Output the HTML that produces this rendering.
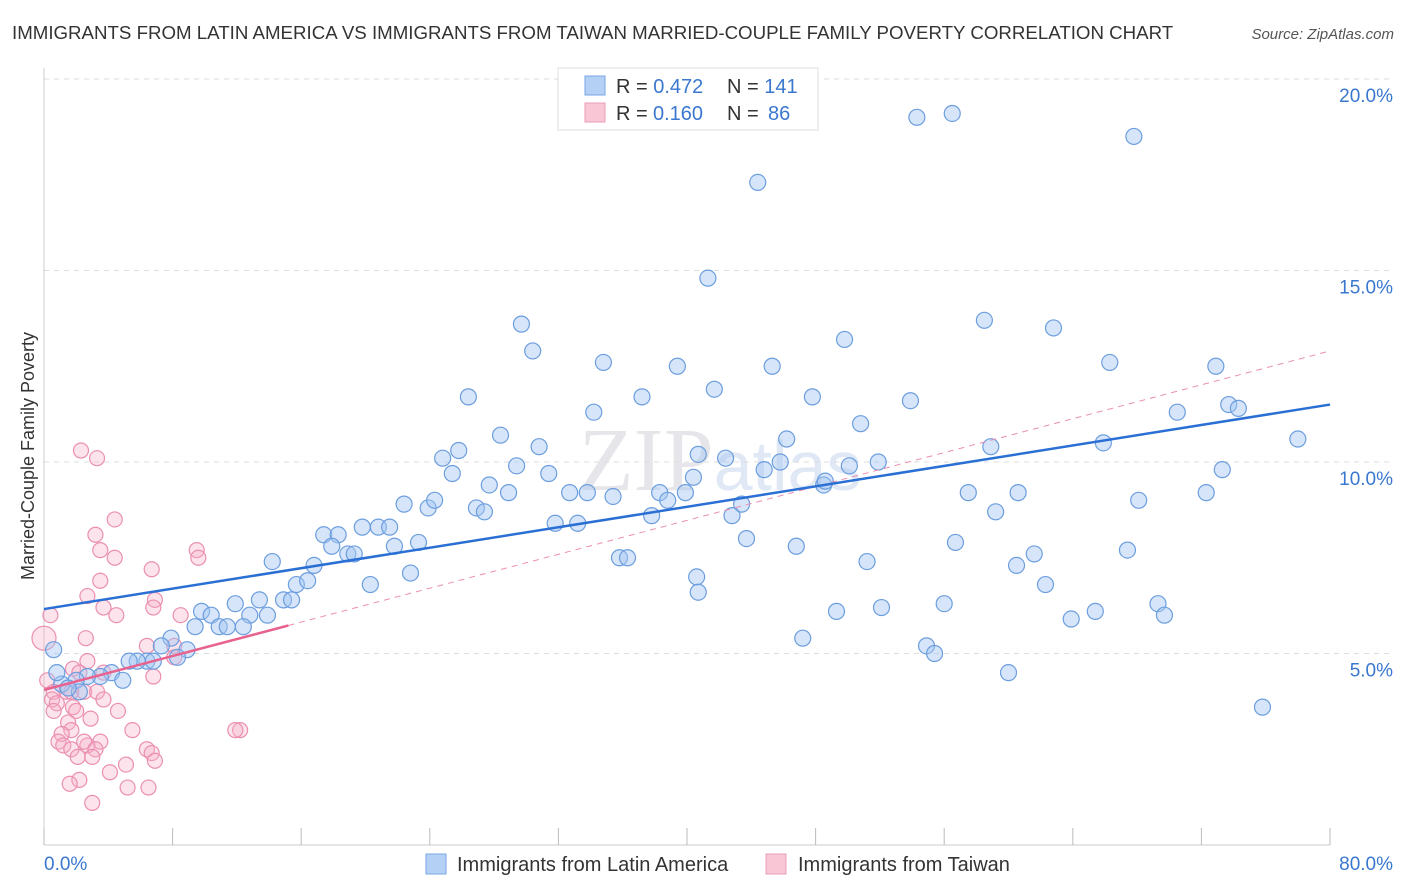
<!DOCTYPE html>
<html><head><meta charset="utf-8"><style>
body{margin:0;background:#fff;font-family:"Liberation Sans",sans-serif;}
svg{display:block}
</style></head><body>
<svg id="chart" width="1406" height="892" viewBox="0 0 1406 892" xmlns="http://www.w3.org/2000/svg">
<text x="12" y="39" font-size="18.7" fill="#333">IMMIGRANTS FROM LATIN AMERICA VS IMMIGRANTS FROM TAIWAN MARRIED-COUPLE FAMILY POVERTY CORRELATION CHART</text>
<text x="1394" y="39" font-size="15" fill="#555" text-anchor="end" font-style="italic">Source: ZipAtlas.com</text>
<text x="720" y="490" font-size="90" fill="#e6e6ea" text-anchor="middle" font-family="Liberation Serif">ZIP<tspan font-family="Liberation Sans" font-size="70" fill="#dfe8f4">atlas</tspan></text>
<g id="grid"></g>
<g id="axes"></g>
<g id="pts"></g>
<g id="trend"></g>
<text transform="translate(34,456) rotate(-90)" font-size="18" fill="#333" text-anchor="middle">Married-Couple Family Poverty</text>
<g>
<rect x="558" y="68" width="260" height="62" fill="#fff" stroke="#ddd"/>
<rect x="585" y="76" width="20" height="19" fill="#b5d0f5" stroke="#7aa6e6"/>
<rect x="585" y="103" width="20" height="19" fill="#f9c6d6" stroke="#eb9cb6"/>
<text x="616" y="93" font-size="20" fill="#333">R = <tspan fill="#3a78d0">0.472</tspan><tspan x="727">N = </tspan><tspan fill="#3a78d0">141</tspan></text>
<text x="616" y="120" font-size="20" fill="#333">R = <tspan x="653" fill="#3a78d0">0.160</tspan><tspan x="727">N = </tspan><tspan x="768" fill="#3a78d0">86</tspan></text>
</g>
<g>
<rect x="426" y="854" width="20" height="20" fill="#b5d0f5" stroke="#7aa6e6"/>
<text x="457" y="871" font-size="20" fill="#333">Immigrants from Latin America</text>
<rect x="766" y="854" width="20" height="20" fill="#f9c6d6" stroke="#eb9cb6"/>
<text x="798" y="871" font-size="20" fill="#333">Immigrants from Taiwan</text>
</g>
</svg>
<script>
const xTicks=[0,8,16,24,32,40,48,56,64,72,80];
const yTicks=[5,10,15,20];
const blueX=[54.3,56.5,67.8,44.4,41.3,29.7,30.4,58.5,62.8,49.8,34.8,39.4,45.3,66.3,72.9,41.7,26.4,37.2,47.8,53.9,73.7,74.3,34.2,70.5,50.8,28.4,46.2,78.0,30.8,25.8,58.9,65.9,40.7,24.8,42.4,45.8,25.4,29.4,31.4,44.8,50.1,51.9,73.3,40.4,27.7,32.7,33.8,35.4,38.3,39.9,28.9,48.5,48.6,57.5,60.6,68.1,72.3,22.4,23.9,24.3,26.9,27.4,38.8,43.4,42.8,37.8,59.2,31.8,33.2,17.4,18.3,19.8,20.8,21.5,17.9,21.8,23.3,18.9,19.3,43.7,46.8,56.7,67.4,35.8,36.3,61.6,51.2,60.5,14.2,16.8,22.8,15.7,16.4,20.3,40.6,40.7,62.3,14.9,15.4,56.0,69.3,13.4,11.9,9.8,10.4,52.1,49.3,65.4,63.9,69.7,13.9,12.8,10.9,11.4,9.4,12.4,47.2,54.9,55.4,75.8,60.0,7.9,8.9,7.3,8.3,6.4,6.8,5.8,5.3,4.2,3.5,4.9,2.7,2.0,1.1,0.6,2.2,1.5,0.8];
const blueY=[19.0,19.1,18.5,17.3,14.8,13.6,12.9,13.7,13.5,13.2,12.6,12.5,12.5,12.6,12.5,11.9,11.7,11.7,11.7,11.6,11.5,11.4,11.3,11.3,11.0,10.7,10.6,10.6,10.4,10.3,10.4,10.5,10.2,10.1,10.1,10.0,9.7,9.9,9.7,9.8,9.9,10.0,9.8,9.6,9.4,9.2,9.2,9.1,9.2,9.2,9.2,9.4,9.5,9.2,9.2,9.0,9.2,8.9,8.8,9.0,8.8,8.7,9.0,8.9,8.6,8.6,8.7,8.4,8.4,8.1,8.1,8.3,8.3,8.3,7.8,7.8,7.9,7.6,7.6,8.0,7.8,7.9,7.7,7.5,7.5,7.6,7.4,7.3,7.4,7.3,7.1,6.8,6.9,6.8,7.0,6.6,6.8,6.4,6.4,6.3,6.3,6.4,6.3,6.1,6.0,6.2,6.1,6.1,5.9,6.0,6.0,6.0,5.7,5.7,5.7,5.7,5.4,5.2,5.0,3.6,4.5,5.4,5.1,5.2,4.9,4.8,4.8,4.8,4.8,4.5,4.4,4.3,4.4,4.3,4.2,5.1,4.0,4.1,4.5];
const pinkX=[2.3,3.3,4.4,3.2,3.5,4.4,9.5,9.6,6.7,3.5,2.7,6.9,6.8,3.7,4.5,0.4,0,2.6,8.5,6.4,8.1,8.1,6.8,2.7,1.8,2.2,3.7,0.2,0.6,1.4,1.7,2.5,3.3,3.7,0.5,0.8,1.8,0.6,2.0,4.6,2.9,1.5,1.7,5.5,1.1,0.9,3.5,1.2,1.7,2.7,2.5,3.2,6.4,6.7,6.9,5.1,4.1,2.2,1.6,5.2,6.5,3.0,12.2,11.9,2.1,3.0];
const pinkY=[10.3,10.1,8.5,8.1,7.7,7.5,7.7,7.5,7.2,6.9,6.5,6.4,6.2,6.2,6.0,6.0,5.4,5.4,6.0,5.2,5.2,4.9,4.4,4.8,4.6,4.5,4.5,4.3,4.0,4.0,4.0,4.0,4.0,3.8,3.8,3.7,3.6,3.5,3.5,3.5,3.3,3.2,3.0,3.0,2.9,2.7,2.7,2.6,2.5,2.6,2.7,2.5,2.5,2.4,2.2,2.1,1.9,1.7,1.6,1.5,1.5,1.1,3.0,3.0,2.3,2.3];
const blueTrend=[6.16,11.5];
const pinkTrend=[4.05,12.9];
const pinkSolidEnd=15.2;
const X0=44,X1=1330,Y0=845,YPER=38.3;
const sx=v=>X0+(X1-X0)*v/80, sy=v=>Y0-v*YPER;
const NS='http://www.w3.org/2000/svg';
function mk(tag,parent,attrs){const e=document.createElementNS(NS,tag);for(const k in attrs)e.setAttribute(k,attrs[k]);document.getElementById(parent).appendChild(e);return e;}
yTicks.forEach(t=>{
 const l=mk('line','grid',{x1:X0,x2:1394,y1:sy(t),y2:sy(t),stroke:'#ddd','stroke-dasharray':'5,5'});
 
 
 const tx=mk('text','grid',{x:1393,y:sy(t)+23,'font-size':19,fill:'#3a78d0','text-anchor':'end'});
 tx.textContent=t.toFixed(1)+'%';
 
 
});
mk('line','axes',{x1:X0,x2:X0,y1:68,y2:Y0,stroke:'#ccc'});
mk('line','axes',{x1:X0,x2:X1,y1:Y0,y2:Y0,stroke:'#ccc'});
xTicks.forEach(t=>{
 const l=mk('line','axes',{x1:sx(t),x2:sx(t),y1:Y0,y2:Y0-17,stroke:'#bbb'});
 
 
});
[[0,'0.0%','start',44],[80,'80.0%','end',1393]].forEach(a=>{
 const tx=mk('text','axes',{x:a[3],y:870,'font-size':19,fill:'#3a78d0','text-anchor':a[2]});
 tx.textContent=a[1];
 
 
});
pinkX.forEach((x,i)=>{
 const c=mk('circle','pts',{cx:sx(x),cy:sy(pinkY[i]),r:(x===0?12:7.5),fill:'rgba(246,175,200,0.35)',stroke:'#eb8fb0','stroke-width':1.2});
 
 
});
blueX.forEach((x,i)=>{
 const c=mk('circle','pts',{cx:sx(x),cy:sy(blueY[i]),r:8,fill:'rgba(165,198,242,0.45)',stroke:'#6c9edf','stroke-width':1.2});
 
 
});
const pe=pinkTrend[0]+(pinkTrend[1]-pinkTrend[0])*pinkSolidEnd/80;
const pd=mk('line','trend',{x1:sx(pinkSolidEnd),y1:sy(pe),x2:sx(80),y2:sy(pinkTrend[1]),stroke:'#eb8fb0','stroke-width':1,'stroke-dasharray':'6,5'});


const ps=mk('line','trend',{x1:sx(0),y1:sy(pinkTrend[0]),x2:sx(pinkSolidEnd),y2:sy(pe),stroke:'#e8628f','stroke-width':2.5});


const bl=mk('line','trend',{x1:sx(0),y1:sy(blueTrend[0]),x2:sx(80),y2:sy(blueTrend[1]),stroke:'#2a6fd4','stroke-width':2.5});


</script>
</body></html>
